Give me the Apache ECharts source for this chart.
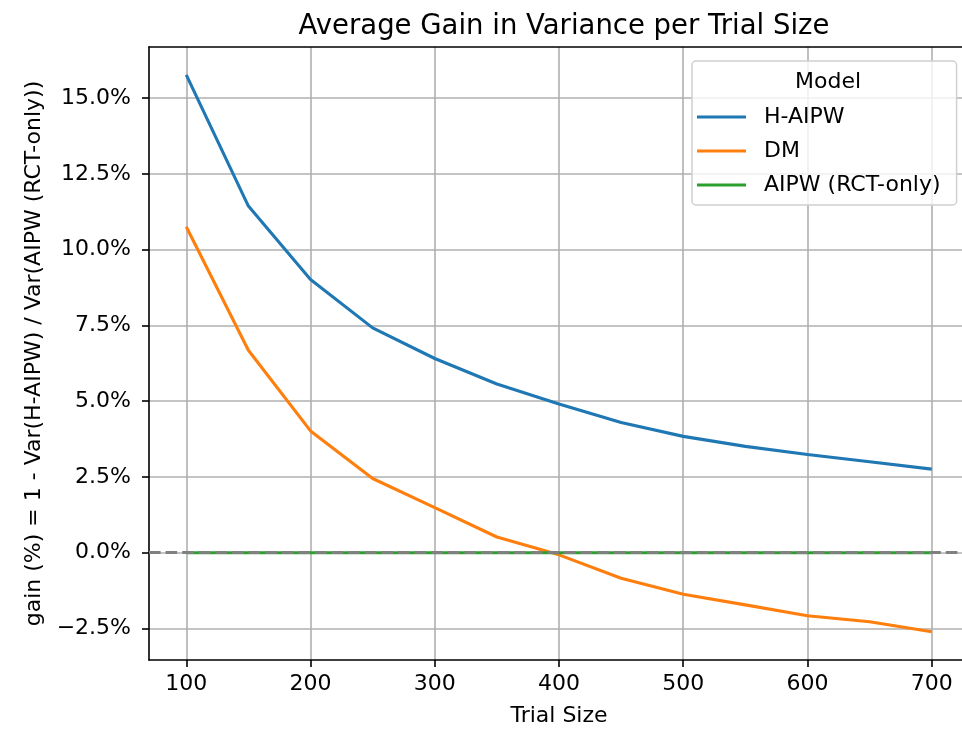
<!DOCTYPE html>
<html>
<head>
<meta charset="utf-8">
<title>Average Gain in Variance per Trial Size</title>
<script src="https://cdn.jsdelivr.net/npm/echarts@6/dist/echarts.min.js"></script>
<style>
  html, body { margin: 0; padding: 0; background: #fff; }
  #chart { width: 962px; height: 729px; }
</style>
</head>
<body>
<div id="chart"></div>
<script>
// trial sizes on the x axis
var trialSizes = [100, 150, 200, 250, 300, 350, 400, 450, 500, 550, 600, 650, 700];
// gain in %
var hAipw = [15.77, 11.44, 9.02, 7.42, 6.41, 5.57, 4.91, 4.30, 3.84, 3.51, 3.24, 3.00, 2.76];
var dm = [10.76, 6.68, 4.02, 2.45, 1.49, 0.52, -0.07, -0.84, -1.37, -1.72, -2.08, -2.28, -2.61];
var aipwRct = [0, 0, 0, 0, 0, 0, 0, 0, 0, 0, 0, 0, 0];

var xTicks = [100, 200, 300, 400, 500, 600, 700];
var yTicks = [-2.5, 0, 2.5, 5, 7.5, 10, 12.5, 15];

var FONT = "DejaVu Sans";

function pairs(ys) {
  return trialSizes.map(function (x, i) { return [x, ys[i]]; });
}

var chartDom = document.getElementById("chart");
var myChart = echarts.init(chartDom, null, { renderer: "canvas" });

var option = {
  backgroundColor: "#fff",
  animation: false,
  title: [
    {
      text: "Average Gain in Variance per Trial Size",
      left: 559,
      top: 8,
      textAlign: "center",
      textStyle: { fontFamily: FONT, fontSize: 27.5, fontWeight: "normal", color: "#000" },
    },
    {
      text: "Model",
      left: 823,
      top: 66,
      textAlign: "center",
      textStyle: { fontFamily: FONT, fontSize: 22, fontWeight: "normal", color: "#000" },
    },
  ],
  legend: {
    data: ["H-AIPW", "DM", "AIPW (RCT-only)"],
    orient: "vertical",
    left: 692,
    top: 61,
    padding: [45, 16, 9, 5],
    itemGap: 12,
    itemWidth: 49,
    itemHeight: 3,
    icon: "rect",
    backgroundColor: "rgba(255,255,255,0.8)",
    borderColor: "#d0d0d0",
    borderWidth: 1.5,
    borderRadius: 4,
    textStyle: {
      fontFamily: FONT,
      fontSize: 22,
      lineHeight: 22,
      color: "#000",
      padding: [0, 0, 0, 13],
    },
  },
  grid: {
    left: 149,
    top: 47,
    right: -7,
    bottom: 69,
    outerBoundsMode: "none",
    show: false,
  },
  xAxis: [
    {
      type: "value",
      min: 70,
      max: 730,
      name: "Trial Size",
      nameLocation: "middle",
      nameGap: 45,
      nameTextStyle: { fontFamily: FONT, fontSize: 22, color: "#000" },
      axisLine: { show: true, onZero: false, lineStyle: { color: "#000", width: 1.6 } },
      axisTick: {
        show: true,
        customValues: xTicks,
        length: 7,
        lineStyle: { color: "#000", width: 1.6 },
      },
      axisLabel: {
        customValues: xTicks,
        margin: 13,
        fontFamily: FONT,
        fontSize: 22,
        color: "#000",
      },
      splitLine: { show: true, lineStyle: { color: "#b0b0b0", width: 1.6 } },
    },
    {
      // top spine only
      type: "value",
      position: "top",
      min: 70,
      max: 730,
      axisLine: { show: true, onZero: false, lineStyle: { color: "#000", width: 1.6 } },
      axisTick: { show: false },
      axisLabel: { show: false },
      splitLine: { show: false },
    },
  ],
  yAxis: {
    type: "value",
    min: -3.54,
    max: 16.69,
    name: "gain (%) = 1 - Var(H-AIPW) / Var(AIPW (RCT-only))",
    nameLocation: "middle",
    nameGap: 97,
    nameTextStyle: { fontFamily: FONT, fontSize: 22, color: "#000" },
    axisLine: { show: true, onZero: false, lineStyle: { color: "#000", width: 1.6 } },
    axisTick: {
      show: true,
      customValues: yTicks,
      length: 7,
      lineStyle: { color: "#000", width: 1.6 },
    },
    axisLabel: {
      customValues: yTicks,
      margin: 18,
      fontFamily: FONT,
      fontSize: 22,
      color: "#000",
      formatter: function (v) {
        return v.toFixed(1).replace("-", "\u2212") + "%";
      },
    },
    splitLine: { show: true, lineStyle: { color: "#b0b0b0", width: 1.6 } },
  },
  series: [
    {
      name: "H-AIPW",
      type: "line",
      symbol: "none",
      color: "#1f77b4",
      lineStyle: { color: "#1f77b4", width: 3.1 },
      data: pairs(hAipw),
    },
    {
      name: "DM",
      type: "line",
      symbol: "none",
      color: "#ff7f0e",
      lineStyle: { color: "#ff7f0e", width: 3.1 },
      data: pairs(dm),
    },
    {
      name: "AIPW (RCT-only)",
      type: "line",
      symbol: "none",
      color: "#2ca02c",
      lineStyle: { color: "#2ca02c", width: 3.1 },
      data: pairs(aipwRct),
      markLine: {
        silent: true,
        symbol: "none",
        label: { show: false },
        lineStyle: { color: "#808080", width: 3.1, type: [11.6, 5], dashOffset: 0 },
        data: [{ yAxis: 0 }],
      },
    },
  ],
};

myChart.setOption(option);
</script>
</body>
</html>
